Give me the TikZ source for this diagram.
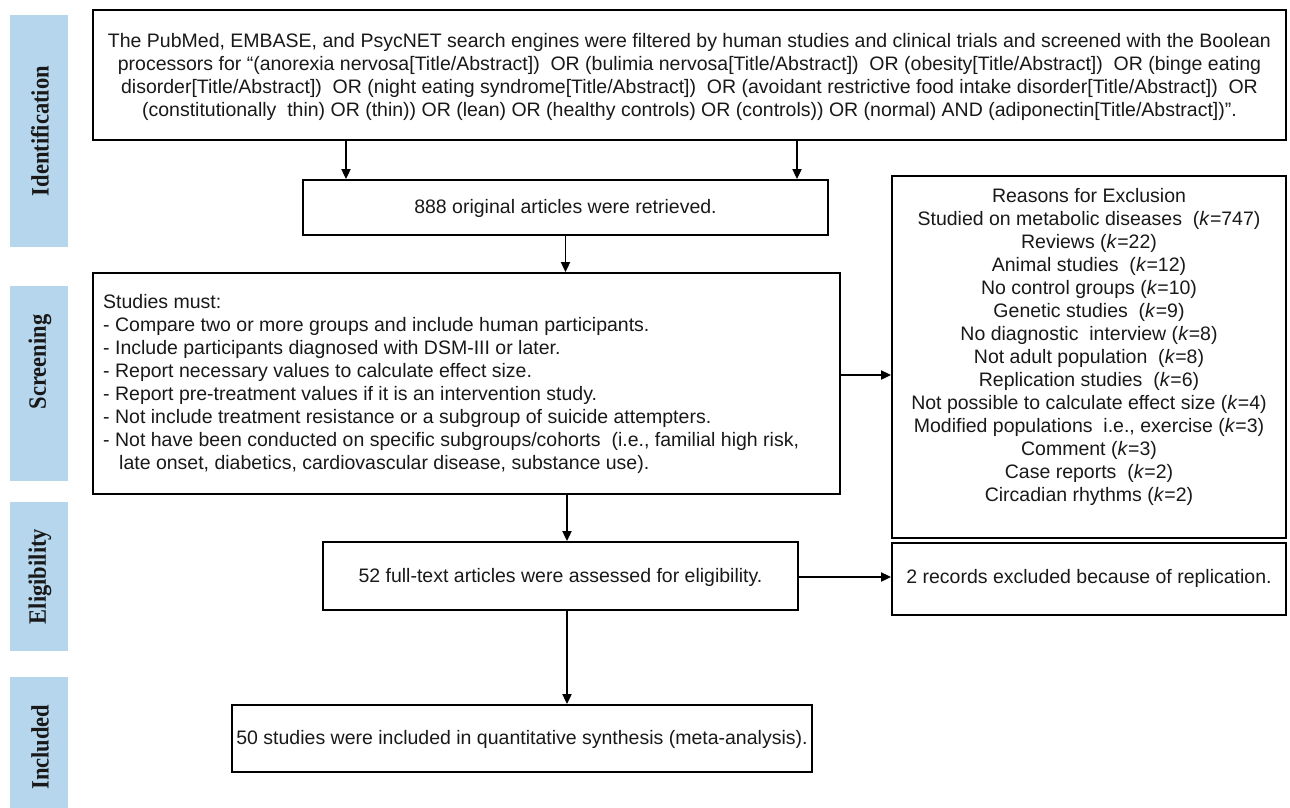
\documentclass[tikz,border=0pt]{standalone}
\usepackage{fontspec}
\setmainfont{Liberation Sans}
\newfontfamily\labelfont{Liberation Serif}
\usetikzlibrary{arrows.meta}
\definecolor{barblue}{RGB}{181,214,236}
\definecolor{txtcol}{RGB}{25,25,25}
\tikzset{
  box/.style={draw=black, line width=1.8pt, rectangle, inner sep=0pt, fill=white},
  txt/.style={inner sep=0pt, text=txtcol, font=\fontsize{19.5}{23}\selectfont},
  sidebar/.style={fill=barblue, inner sep=0pt, minimum width=58pt},
  sidelabel/.style={rotate=90, inner sep=0pt, text=txtcol,
    font=\labelfont\bfseries\fontsize{25}{25}\selectfont},
  arr/.style={line width=1.8pt, -{Triangle[length=10pt,width=9pt]}},
}
\newcommand{\sidetext}[1]{\scalebox{0.9}[1]{#1}}
\begin{document}
\begin{tikzpicture}[x=1pt,y=-1pt]
\useasboundingbox (0,0) rectangle (1290,807);
% side bars
\node[sidebar, minimum height=232pt] (sid) at (39,131) {};
\node[sidelabel] (lid) at (40,131) {\sidetext{Identification}};
\node[sidebar, minimum height=195pt] (sscr) at (39,383.5) {};
\node[sidelabel] (lscr) at (40,362) {\sidetext{Screening}};
\node[sidebar, minimum height=149pt] (selig) at (39,576.5) {};
\node[sidelabel] (lelig) at (40,576.5) {\sidetext{Eligibility}};
\node[sidebar, minimum height=140pt] (sincl) at (39,747) {};
\node[sidelabel] (lincl) at (40,747) {\sidetext{Included}};
% boxes
\node[box, minimum width=1193pt, minimum height=130pt] (top) at (689.5,75) {};
\node[txt, align=center] (toptext) at (689.5,76.5) {The PubMed, EMBASE, and PsycNET search engines were filtered by human studies and clinical trials and screened with the Boolean\\
processors for \textquotedblleft(anorexia nervosa[Title/Abstract])\ \ OR (bulimia nervosa[Title/Abstract])\ \ OR (obesity[Title/Abstract])\ \ OR (binge eating\\
disorder[Title/Abstract])\ \ OR (night eating syndrome[Title/Abstract])\ \ OR (avoidant restrictive food intake disorder[Title/Abstract])\ \ OR\\
(constitutionally\ \ thin) OR (thin)) OR (lean) OR (healthy controls) OR (controls)) OR (normal) AND (adiponectin[Title/Abstract])\textquotedblright.};
\node[box, minimum width=525pt, minimum height=55pt] (b888) at (565.5,207.5) {};
\node[txt] (t888) at (565.5,208) {888 original articles were retrieved.};
\node[box, minimum width=747pt, minimum height=221pt] (screen) at (466.5,383.5) {};
\node[txt, align=left, anchor=west] (screentext) at (103,384) {Studies must:\\
- Compare two or more groups and include human participants.\\
- Include participants diagnosed with DSM-III or later.\\
- Report necessary values to calculate effect size.\\
- Report pre-treatment values if it is an intervention study.\\
- Not include treatment resistance or a subgroup of suicide attempters.\\
- Not have been conducted on specific subgroups/cohorts\ \ (i.e., familial high risk,\\
\hspace*{16pt}late onset, diabetics, cardiovascular disease, substance use).};
\node[box, minimum width=394pt, minimum height=362pt] (reasons) at (1089,357) {};
\node[txt, align=center] (reasonstext) at (1089,347) {Reasons for Exclusion\\
Studied on metabolic diseases\ \ (\textit{k}=747)\\
Reviews (\textit{k}=22)\\
Animal studies\ \ (\textit{k}=12)\\
No control groups (\textit{k}=10)\\
Genetic studies\ \ (\textit{k}=9)\\
No diagnostic\ \ interview (\textit{k}=8)\\
Not adult population\ \ (\textit{k}=8)\\
Replication studies\ \ (\textit{k}=6)\\
Not possible to calculate effect size (\textit{k}=4)\\
Modified populations\ \ i.e., exercise (\textit{k}=3)\\
Comment (\textit{k}=3)\\
Case reports\ \ (\textit{k}=2)\\
Circadian rhythms (\textit{k}=2)};
\node[box, minimum width=475pt, minimum height=68pt] (b52) at (560.5,576) {};
\node[txt] (t52) at (560.5,577) {52 full-text articles were assessed for eligibility.};
\node[box, minimum width=394pt, minimum height=72pt] (rec2) at (1089,579) {};
\node[txt] (trec2) at (1089,578) {2 records excluded because of replication.};
\node[box, minimum width=580pt, minimum height=67pt] (b50) at (522,738.5) {};
\node[txt] (t50) at (522,739) {50 studies were included in quantitative synthesis (meta-analysis).};
% arrows
\draw[arr] (top.south -| 346,0) -- (b888.north -| 346,0);
\draw[arr] (top.south -| 797,0) -- (b888.north -| 797,0);
\draw[arr] (b888.south) -- (screen.north -| b888.south);
\draw[arr] (screen.east |- 0,375) -- (reasons.west |- 0,375);
\draw[arr] (screen.south -| 567,0) -- (b52.north -| 567,0);
\draw[arr] (b52.east |- 0,577) -- (rec2.west |- 0,577);
\draw[arr] (b52.south -| 567,0) -- (b50.north -| 567,0);
\end{tikzpicture}
\end{document}
